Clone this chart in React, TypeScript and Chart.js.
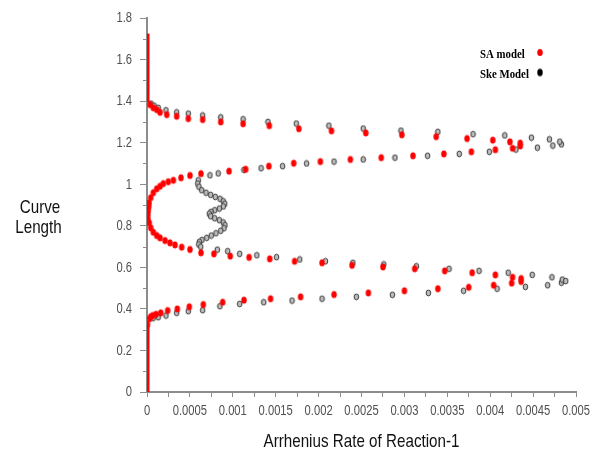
import { useEffect, useRef } from 'react';
import { Chart, registerables } from 'chart.js';

Chart.register(...registerables);

type Pt = [number, number];

// ---- axis ticks ----
const xTickValues = [
  0, 0.00025, 0.0005, 0.00075, 0.001, 0.00125, 0.0015, 0.00175, 0.002, 0.00225, 0.0025,
  0.00275, 0.003, 0.00325, 0.0035, 0.00375, 0.004, 0.00425, 0.0045, 0.00475, 0.005,
];
const xMajorValues = [0, 0.0005, 0.001, 0.0015, 0.002, 0.0025, 0.003, 0.0035, 0.004, 0.0045, 0.005];
const xTickLabels = ['0', '0.0005', '0.001', '0.0015', '0.002', '0.0025', '0.003', '0.0035', '0.004', '0.0045', '0.005'];
const yMajorValues = [0, 0.2, 0.4, 0.6, 0.8, 1, 1.2, 1.4, 1.6, 1.8];
const yTickLabels = ['0', '0.2', '0.4', '0.6', '0.8', '1', '1.2', '1.4', '1.6', '1.8'];
const yMinorValues = [0.1, 0.3, 0.5, 0.7, 0.9, 1.1, 1.3, 1.5, 1.7];

// ---- SA model ----
const saTopWall: Pt[] = [[0, 1.395], [0, 1.725]];
const saBottomWall: Pt[] = [[0, -0.006], [0, 0.322]];
const saUpperBranch: Pt[] = [
  [0.000035, 1.383], [0.000073, 1.368], [0.000113, 1.359], [0.000152, 1.346], [0.00023, 1.335],
  [0.000346, 1.327], [0.000481, 1.316], [0.000649, 1.311], [0.000859, 1.3], [0.00112, 1.291],
  [0.001425, 1.282], [0.00177, 1.267], [0.00215, 1.257], [0.00255, 1.247], [0.00297, 1.238],
  [0.00337, 1.229], [0.00373, 1.22], [0.00403, 1.212], [0.00423, 1.204], [0.00435, 1.198],
];
const saLoopUpper: Pt[] = [
  [0.00001, 0.862], [0.000015, 0.878], [0.00002, 0.894], [0.000023, 0.91], [0.000043, 0.935],
  [0.000073, 0.959], [0.000113, 0.978], [0.000152, 0.99], [0.00019, 1.003], [0.000248, 1.012],
  [0.000307, 1.019], [0.000396, 1.031], [0.000501, 1.042], [0.000629, 1.051], [0.000956, 1.063],
  [0.00115, 1.072], [0.00142, 1.087], [0.00171, 1.101], [0.00202, 1.109], [0.00237, 1.119],
  [0.00273, 1.128], [0.0031, 1.137], [0.00346, 1.146], [0.00378, 1.156], [0.00406, 1.166],
  [0.00426, 1.173], [0.00435, 1.184],
];
const saLoopLower: Pt[] = [
  [0.000008, 0.846], [0.00001, 0.83], [0.000026, 0.814], [0.000043, 0.79], [0.000073, 0.769],
  [0.000113, 0.753], [0.000152, 0.742], [0.00021, 0.729], [0.000268, 0.718], [0.000326, 0.708],
  [0.000404, 0.697], [0.000501, 0.686], [0.000629, 0.67], [0.00078, 0.665], [0.00097, 0.654],
  [0.00119, 0.648], [0.00143, 0.641], [0.00172, 0.629], [0.00204, 0.622], [0.00239, 0.61],
  [0.00275, 0.602], [0.00312, 0.593], [0.00347, 0.583], [0.00379, 0.574], [0.00406, 0.564],
  [0.00426, 0.552], [0.00436, 0.546],
];
const saLowerBranch: Pt[] = [
  [0.000005, 0.325], [0.000027, 0.352], [0.000043, 0.362], [0.000066, 0.368], [0.000105, 0.374],
  [0.00016, 0.381], [0.000241, 0.392], [0.000353, 0.4], [0.000493, 0.41], [0.000656, 0.421],
  [0.000882, 0.432], [0.00113, 0.442], [0.00144, 0.449], [0.00179, 0.458], [0.00218, 0.469],
  [0.00258, 0.477], [0.003, 0.487], [0.00339, 0.497], [0.00375, 0.504], [0.00404, 0.514],
  [0.00425, 0.524], [0.00436, 0.532],
];

// ---- Ske model ----
const skeUpperBranch: Pt[] = [
  [0.000047, 1.388], [0.000082, 1.378], [0.000131, 1.368], [0.000221, 1.356], [0.000346, 1.346],
  [0.000481, 1.34], [0.000649, 1.331], [0.000859, 1.322], [0.00112, 1.313], [0.00141, 1.3],
  [0.00174, 1.292], [0.00212, 1.282], [0.00252, 1.268], [0.00296, 1.258], [0.00339, 1.252],
  [0.0038, 1.241], [0.00417, 1.235], [0.00448, 1.224], [0.00469, 1.216], [0.00481, 1.205],
];
const skeSnake: Pt[] = [
  [0.000598, 1.019], [0.000591, 1.003], [0.000606, 0.988], [0.000638, 0.971], [0.000688, 0.959],
  [0.000742, 0.949], [0.000796, 0.939], [0.000851, 0.93], [0.000889, 0.918], [0.000906, 0.906],
  [0.000889, 0.893], [0.000843, 0.883], [0.000789, 0.875], [0.000746, 0.867], [0.000726, 0.858],
  [0.000742, 0.846], [0.000789, 0.836], [0.000843, 0.827], [0.000889, 0.816], [0.000909, 0.803],
  [0.000897, 0.788], [0.000859, 0.776], [0.000804, 0.764], [0.000749, 0.753], [0.000696, 0.742],
  [0.000641, 0.732], [0.00061, 0.723], [0.000603, 0.71], [0.000626, 0.699],
];
const skeMiddleUpper: Pt[] = [
  [0.000734, 1.043], [0.00083, 1.052], [0.00113, 1.069], [0.00133, 1.077], [0.00158, 1.087],
  [0.00186, 1.1], [0.00218, 1.109], [0.00252, 1.119], [0.00289, 1.128], [0.00327, 1.137],
  [0.00364, 1.146], [0.00399, 1.156], [0.0043, 1.167], [0.00455, 1.176], [0.00473, 1.186],
  [0.00483, 1.192],
];
const skeMiddleLower: Pt[] = [
  [0.00082, 0.685], [0.00094, 0.678], [0.00108, 0.665], [0.00128, 0.658], [0.00151, 0.649],
  [0.00178, 0.638], [0.00208, 0.629], [0.0024, 0.622], [0.00276, 0.614], [0.00314, 0.605],
  [0.00352, 0.593], [0.00387, 0.583], [0.00421, 0.574], [0.00449, 0.564], [0.00472, 0.552],
  [0.00484, 0.541], [0.00488, 0.534],
];
const skeLowerBranch: Pt[] = [
  [0.00007, 0.355], [0.000131, 0.36], [0.000221, 0.368], [0.000346, 0.381], [0.000481, 0.389],
  [0.000649, 0.394], [0.00085, 0.413], [0.00108, 0.424], [0.00136, 0.432], [0.00169, 0.44],
  [0.00204, 0.449], [0.00244, 0.458], [0.00286, 0.468], [0.00328, 0.477], [0.00369, 0.487],
  [0.00408, 0.497], [0.00441, 0.506], [0.00467, 0.514], [0.00483, 0.526],
];

const legendLabels = ['SA model', 'Ske Model'];
const xTitle = 'Arrhenius Rate of Reaction-1';
const yTitleLines = ['Curve', 'Length'];

const SA_RED = '#ff0000';
const AXIS_GRAY = '#8c8c8c';
const TICK_TEXT = '#505050';
const SANS = '"Liberation Sans", Arial, sans-serif';
const NARROW_X = 0.8; // horizontal squeeze for the condensed lettering

const toXY = (pts: Pt[]) => pts.map(([x, y]) => ({ x, y }));

function dotImage(fill: string, stroke: string | null, w: number, h: number, lw = 1): HTMLCanvasElement {
  const c = document.createElement('canvas');
  c.width = Math.ceil(w + 2);
  c.height = Math.ceil(h + 2);
  const g = c.getContext('2d')!;
  g.beginPath();
  g.ellipse(c.width / 2, c.height / 2, w / 2, h / 2, 0, 0, Math.PI * 2);
  g.fillStyle = fill;
  g.fill();
  if (stroke) {
    g.lineWidth = lw;
    g.strokeStyle = stroke;
    g.stroke();
  }
  return c;
}

function squeezedText(
  ctx: CanvasRenderingContext2D,
  text: string,
  x: number,
  y: number,
  align: CanvasTextAlign,
  baseline: CanvasTextBaseline,
  sx: number,
) {
  ctx.save();
  ctx.translate(x, y);
  ctx.scale(sx, 1);
  ctx.textAlign = align;
  ctx.textBaseline = baseline;
  ctx.fillText(text, 0, 0);
  ctx.restore();
}

// Tick labels, minor ticks, axis titles and the legend box
const decorations = {
  id: 'decorations',
  afterDraw(chart: any) {
    const { ctx, chartArea } = chart;
    const xScale = chart.scales.x;
    const yScale = chart.scales.y;
    ctx.save();

    ctx.strokeStyle = AXIS_GRAY;
    ctx.lineWidth = 1;
    for (const v of yMinorValues) {
      const py = Math.round(yScale.getPixelForValue(v)) + 0.5;
      ctx.beginPath();
      ctx.moveTo(chartArea.left - 4, py);
      ctx.lineTo(chartArea.left, py);
      ctx.stroke();
    }

    ctx.fillStyle = TICK_TEXT;
    ctx.font = `14px ${SANS}`;
    xMajorValues.forEach((v, i) => {
      squeezedText(ctx, xTickLabels[i], xScale.getPixelForValue(v), 415, 'center', 'alphabetic', NARROW_X);
    });
    yMajorValues.forEach((v, i) => {
      squeezedText(ctx, yTickLabels[i], 132, yScale.getPixelForValue(v) + 0.5, 'right', 'middle', NARROW_X);
    });

    ctx.fillStyle = '#111';
    ctx.font = `19px ${SANS}`;
    squeezedText(ctx, xTitle, (chartArea.left + chartArea.right) / 2, 447, 'center', 'alphabetic', NARROW_X);
    squeezedText(ctx, yTitleLines[0], 40, 213, 'center', 'alphabetic', NARROW_X);
    squeezedText(ctx, yTitleLines[1], 38.5, 233, 'center', 'alphabetic', NARROW_X);

    // legend
    ctx.fillStyle = '#000';
    ctx.font = 'bold 13.5px "Liberation Serif", "Times New Roman", serif';
    const rows = [
      { label: legendLabels[0], base: 57.5, dot: dotImage(SA_RED, null, 5.5, 7), dy: 52.5 },
      { label: legendLabels[1], base: 77.5, dot: dotImage('#000', null, 5.5, 7.5), dy: 72.5 },
    ];
    for (const r of rows) {
      squeezedText(ctx, r.label, 480, r.base, 'left', 'alphabetic', 0.8);
      ctx.drawImage(r.dot, 540 - r.dot.width / 2, r.dy - r.dot.height / 2);
    }
    ctx.restore();
  },
};

export default function App() {
  const canvasRef = useRef<HTMLCanvasElement | null>(null);

  useEffect(() => {
    document.body.style.margin = '0';
    const canvas = canvasRef.current;
    if (!canvas) return;

    const redDot = dotImage(SA_RED, null, 5.5, 7.2);
    const grayDot = dotImage('#bdbdbd', '#3a3a3a', 4.6, 5.8, 1);

    const sa = (pts: Pt[]) => ({
      data: toXY(pts),
      pointStyle: redDot,
      pointRadius: 3,
      showLine: false,
      order: 0,
    });
    const ske = (pts: Pt[]) => ({
      data: toXY(pts),
      pointStyle: grayDot,
      pointRadius: 3,
      showLine: false,
      order: 1,
    });
    const wall = (pts: Pt[]) => ({
      data: toXY(pts),
      showLine: true,
      borderColor: SA_RED,
      borderWidth: 5,
      pointRadius: 0,
      order: 0,
    });

    const chart = new Chart(canvas, {
      type: 'scatter',
      data: {
        datasets: [
          wall(saTopWall),
          wall(saBottomWall),
          sa(saUpperBranch),
          sa(saLoopUpper),
          sa(saLoopLower),
          sa(saLowerBranch),
          ske(skeUpperBranch),
          ske(skeSnake),
          ske(skeMiddleUpper),
          ske(skeMiddleLower),
          ske(skeLowerBranch),
        ] as any,
      },
      plugins: [decorations],
      options: {
        responsive: false,
        animation: false,
        devicePixelRatio: 1,
        layout: { padding: { top: 18, right: 26, left: 0, bottom: 0 } },
        plugins: { legend: { display: false }, tooltip: { enabled: false } },
        scales: {
          x: {
            type: 'linear',
            min: 0,
            max: 0.005,
            border: { display: true, color: AXIS_GRAY, width: 2 },
            grid: { drawOnChartArea: false, drawTicks: true, tickLength: 5, color: AXIS_GRAY, lineWidth: 1 },
            ticks: { display: false },
            afterBuildTicks: (scale: any) => {
              scale.ticks = xTickValues.map((value) => ({ value }));
            },
            afterFit: (scale: any) => {
              scale.height = 66;
            },
          },
          y: {
            type: 'linear',
            min: 0,
            max: 1.8,
            border: { display: true, color: AXIS_GRAY, width: 2 },
            grid: { drawOnChartArea: false, drawTicks: true, tickLength: 7, color: AXIS_GRAY, lineWidth: 1 },
            ticks: { display: false },
            afterBuildTicks: (scale: any) => {
              scale.ticks = yMajorValues.map((value) => ({ value }));
            },
            afterFit: (scale: any) => {
              scale.width = 147;
            },
          },
        },
      } as any,
    });

    return () => chart.destroy();
  }, []);

  return (
    <div style={{ width: 602, height: 458 }}>
      <canvas ref={canvasRef} width={602} height={458} style={{ display: 'block' }} />
    </div>
  );
}
